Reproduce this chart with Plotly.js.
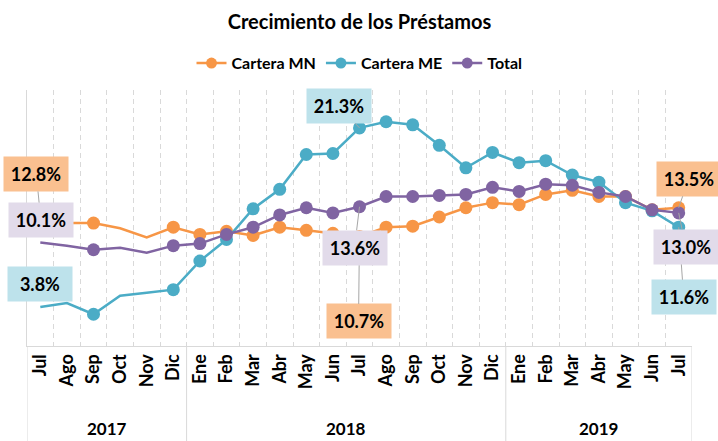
<!DOCTYPE html>
<html>
<head>
<meta charset="utf-8">
<script src="https://cdn.plot.ly/plotly-3.0.1.min.js"></script>
<style>html,body{margin:0;padding:0;background:#fff;}#chart{width:718px;height:441px;}</style>
</head>
<body>
<div id="chart"></div>
<script>
// ---- data ----
const months = ["Jul","Ago","Sep","Oct","Nov","Dic","Ene","Feb","Mar","Abr","May","Jun","Jul","Ago","Sep","Oct","Nov","Dic","Ene","Feb","Mar","Abr","May","Jun","Jul"];
const years = ["2017","2017","2017","2017","2017","2017","2018","2018","2018","2018","2018","2018","2018","2018","2018","2018","2018","2018","2019","2019","2019","2019","2019","2019","2019"];
const yearLabels = ["2017","2018","2019"];
const carteraMN = [12.8,12.0,12.0,11.5,10.6,11.6,10.9,11.2,10.8,11.6,11.3,11.0,10.7,11.6,11.7,12.6,13.5,14.0,13.8,14.8,15.2,14.6,14.6,13.3,13.5];
const carteraME = [3.8,4.2,3.1,4.9,5.2,5.5,8.3,10.4,13.4,15.3,18.7,18.8,21.3,21.9,21.6,19.6,17.4,18.9,17.9,18.1,16.7,16.0,14.0,13.2,11.6];
const total = [10.1,9.8,9.4,9.6,9.1,9.8,10.0,10.9,11.6,12.8,13.5,13.0,13.6,14.6,14.6,14.7,14.8,15.5,15.1,15.8,15.7,15.0,14.6,13.3,13.0];
const seriesNames = ["Cartera MN","Cartera ME","Total"];

// ---- styles ----
const FONT = "Lato, 'Open Sans', sans-serif";
const colors = ["#F79646","#4BACC6","#8064A2"];
const hiddenMarkerIdx = [0,1,3,4];
const cats = months.map((m,i)=> m + " " + years[i]);
const msize = cats.map((c,i)=> hiddenMarkerIdx.includes(i) ? 0 : 13);

const values = [carteraMN, carteraME, total];
const traces = values.map((v,k)=>({
  type:'scatter', mode:'lines+markers', name:'<b>'+seriesNames[k]+'</b>',
  x:cats, y:v,
  line:{color:colors[k], width:2.5},
  marker:{color:colors[k], size:msize, opacity:1, line:{width:0}},
  cliponaxis:false
}));

const last = cats.length-1;
const jul18 = 12;
const labelBg = {o:"#FAC090", t:"#BDE2EB", p:"#E2DBEA"};
function lab(xi, yv, txt, bg, ax, ay, arrow){
  const a = {x:cats[xi], y:yv, xref:'x', yref:'y', text:'<b>'+txt+'</b>',
    font:{family:FONT, size:18, color:'#000'}, bgcolor:bg, width:62, height:32,
    showarrow:true, arrowhead:0, arrowwidth:1, arrowcolor:'#A6A6A6', ax:ax, ay:ay, standoff:0};
  if(!arrow){ a.showarrow=false; a.xshift=ax; a.yshift=-ay; }
  return a;
}
const annotations = [
  lab(0, carteraMN[0], carteraMN[0].toFixed(1)+'%', labelBg.o, -4, -41, true),
  lab(0, total[0], total[0].toFixed(1)+'%', labelBg.p, 1, -23, false),
  lab(0, carteraME[0], carteraME[0].toFixed(1)+'%', labelBg.t, 0, -23, false),
  lab(jul18, carteraME[jul18], carteraME[jul18].toFixed(1)+'%', labelBg.t, -21, -22, true),
  lab(jul18, carteraMN[jul18], carteraMN[jul18].toFixed(1)+'%', labelBg.o, -1, 85, true),
  lab(jul18, total[jul18], total[jul18].toFixed(1)+'%', labelBg.p, -5, 41, true),
  lab(last, carteraMN[last], carteraMN[last].toFixed(1)+'%', labelBg.o, 10, -29, true),
  lab(last, carteraME[last], carteraME[last].toFixed(1)+'%', labelBg.t, 5, 70, true),
  lab(last, total[last], total[last].toFixed(1)+'%', labelBg.p, 7, 34, true)
];

// year group labels and dividers
const groups = [];
yearLabels.forEach(yl=>{
  const idx = years.map((y,i)=> y===yl ? i : -1).filter(i=>i>=0);
  groups.push({label:yl, first:idx[0], last:idx[idx.length-1]});
});
const shapes = [];
groups.forEach((g,gi)=>{
  annotations.push({x:(g.first+g.last)/2, y:-0.322, xref:'x', yref:'paper', text:'<b>'+g.label+'</b>',
    showarrow:false, font:{family:FONT, size:17, color:'#000'}, yanchor:'middle'});
  if(gi===0) shapes.push({type:'line', xref:'x', yref:'paper', x0:g.first-0.5, x1:g.first-0.5, y0:0, y1:-0.38, line:{color:'#D9D9D9', width:1}});
  shapes.push({type:'line', xref:'x', yref:'paper', x0:g.last+0.5, x1:g.last+0.5, y0:0, y1:-0.38, line:{color:'#D9D9D9', width:1}});
});

const layout = {
  width:718, height:441,
  margin:{l:27, r:26, t:90, b:95},
  paper_bgcolor:'#fff', plot_bgcolor:'#fff',
  font:{family:FONT, color:'#000'},
  title:{text:'<b>Crecimiento de los Préstamos</b>', x:0.5, xref:'paper', y:0.95, yref:'container', yanchor:'middle',
    font:{family:FONT, size:20, color:'#000'}},
  showlegend:true,
  legend:{orientation:'h', x:0.5, xanchor:'center', y:1.105, yanchor:'middle',
    font:{family:FONT, size:16, color:'#000'}, itemwidth:30, bgcolor:'rgba(0,0,0,0)'},
  xaxis:{type:'category', categoryorder:'array', categoryarray:cats,
    tickmode:'array', tickvals:cats, ticktext:months, tickangle:-90,
    tickfont:{family:FONT, size:18, color:'#000', weight:'bold'},
    tickson:'boundaries', ticks:'', showgrid:true, gridcolor:'#D9D9D9', gridwidth:1, griddash:'5px,4px',
    showline:true, linecolor:'#D9D9D9', linewidth:1, zeroline:false, range:[-0.5, last+0.5]},
  yaxis:{range:[0,25], showticklabels:false, showgrid:false, zeroline:false, ticks:'',
    showline:true, linecolor:'#D9D9D9', linewidth:1},
  annotations:annotations,
  shapes:shapes
};
Plotly.newPlot('chart', traces, layout, {displayModeBar:false, staticPlot:true});
</script>
</body>
</html>
